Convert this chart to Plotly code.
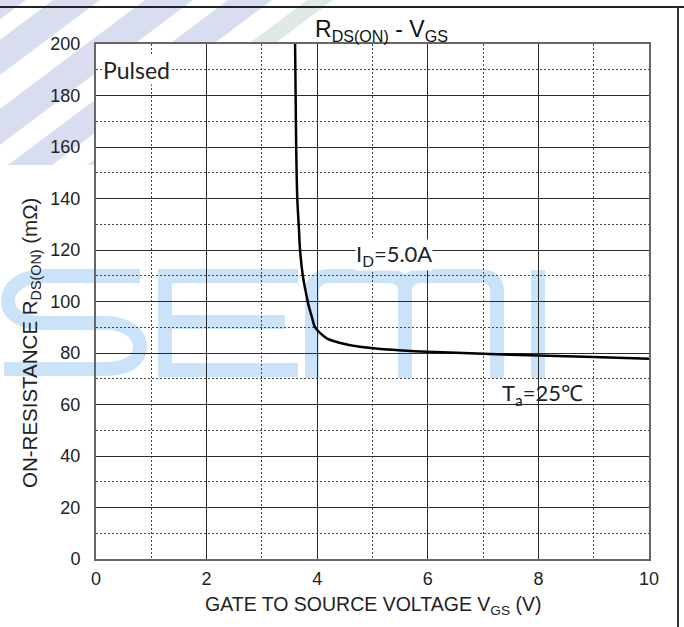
import plotly.graph_objects as go

# ---------------- data ----------------
vgs = [3.60, 3.61, 3.62, 3.64, 3.67, 3.69, 3.74, 3.80, 3.85, 3.91, 3.96,
       4.05, 4.18, 4.40, 4.77, 5.20, 6.00, 7.00, 8.00, 9.00, 10.00]
rds = [200, 180, 160, 140, 128, 120, 110, 103, 98, 93.5, 90,
       87.8, 85.6, 84.0, 82.4, 81.5, 80.5, 79.7, 79.0, 78.4, 77.8]

x_ticks = [0, 2, 4, 6, 8, 10]
y_ticks = [0, 20, 40, 60, 80, 100, 120, 140, 160, 180, 200]

title_text = "R<sub>DS(ON)</sub> - V<sub>GS</sub>"
x_title = "GATE TO SOURCE VOLTAGE V<sub>GS</sub> (V)"
y_title = "ON-RESISTANCE R<sub>DS(ON)</sub> (mΩ)"
note_pulsed = "Pulsed"
note_id = "I<sub>D</sub>=5.0A"
note_ta = "T<sub>a</sub>=25℃"

# ---------------- layout helpers ----------------
W, H = 684, 627
L, R, T, B = 96, 649, 44, 559


def px(x):
    return (x - L) / (R - L)


def py(y):
    return (B - y) / (B - T)


def path_from(cmds):
    out = []
    for c in cmds:
        if isinstance(c, str):
            out.append(c)
        else:
            out.append(f"{px(c[0]):.5f},{py(c[1]):.5f}")
    return " ".join(out)


FONT = "Liberation Sans, Arial, sans-serif"
shapes = []

# diagonal watermark stripes (upper-left, outside plot)
stripe_tops = [(-20, 26), (53, 100), (145, 193), (228, 272), (307, 333)]
stripe_cols = ["#d8def0", "#d8def0", "#d8def0", "#d8def0", "#dfe9e6"]
slope = 0.75
ybot = 165
for (a, b), col in zip(stripe_tops, stripe_cols):
    d = ybot / slope
    p = path_from(["M", (a, 0), "L", (b, 0), "L", (b - d, ybot), "L", (a - d, ybot), "Z"])
    shapes.append(dict(type="path", path=p, xref="paper", yref="paper",
                       fillcolor=col, line=dict(width=0), layer="below"))

# white plot area over stripes
shapes.append(dict(type="rect", xref="paper", yref="paper", x0=0, x1=1, y0=0, y1=1,
                   fillcolor="white", line=dict(width=0), layer="below"))

# "SEMI" watermark letters
wm = "#cbe3f8"
letters = [
    ["M", (140, 276), "L", (45, 276), "C", (20, 276), (8, 288), (8, 301),
     "C", (8, 314), (20, 323), (45, 323), "L", (105, 323),
     "C", (128, 323), (140, 334), (140, 347), "C", (140, 360), (128, 369), (105, 369),
     "L", (4, 369)],
    ["M", (298, 276), "L", (165, 276), "L", (165, 370), "L", (298, 370),
     "M", (165, 322), "L", (285, 322)],
    ["M", (312, 378), "L", (312, 292), "C", (312, 282), (318, 276), (330, 276),
     "L", (388, 276), "C", (400, 276), (405, 282), (405, 292), "L", (405, 378),
     "M", (405, 292), "C", (405, 282), (410, 276), (422, 276), "L", (480, 276),
     "C", (492, 276), (497, 282), (497, 292), "L", (497, 378)],
    ["M", (538, 270), "L", (538, 378)],
]
for lt in letters:
    shapes.append(dict(type="path", path=path_from(lt), xref="paper", yref="paper",
                       line=dict(color=wm, width=14), layer="below"))

# page border lines
shapes.append(dict(type="line", xref="paper", yref="paper", x0=px(0), x1=px(684),
                   y0=py(7), y1=py(7), line=dict(color="#222", width=2), layer="above"))
shapes.append(dict(type="line", xref="paper", yref="paper", x0=px(678), x1=px(678),
                   y0=py(7), y1=py(627), line=dict(color="#333", width=2), layer="above"))

fig = go.Figure()
fig.add_trace(go.Scatter(x=vgs, y=rds, mode="lines",
                         line=dict(color="black", width=2.5, shape="spline", smoothing=0.8),
                         hoverinfo="skip", showlegend=False))

axis_common = dict(showline=True, mirror=True, linecolor="#666", linewidth=2,
                   showgrid=True, gridcolor="#2a2a2a", gridwidth=1.3, zeroline=False,
                   ticks="", tickfont=dict(family=FONT, size=18, color="#222"))

fig.update_xaxes(range=[0, 10], tickvals=x_ticks, ticktext=[str(v) for v in x_ticks],
                 minor=dict(dtick=1, tick0=0, showgrid=True, gridcolor="#444",
                            griddash="2px,2px", gridwidth=1),
                 ticklabelstandoff=2, **axis_common)
fig.update_yaxes(range=[0, 200], tickvals=y_ticks, ticktext=[str(v) for v in y_ticks],
                 minor=dict(dtick=10, tick0=0, showgrid=True, gridcolor="#444",
                            griddash="2px,2px", gridwidth=1),
                 ticklabelstandoff=10, **axis_common)

annotations = [
    dict(text=title_text, xref="paper", yref="paper", x=px(381), y=py(31),
         xanchor="center", yanchor="middle", showarrow=False,
         font=dict(family=FONT, size=23, color="#111")),
    dict(text=x_title, xref="paper", yref="paper", x=px(373), y=py(605),
         xanchor="center", yanchor="middle", showarrow=False,
         font=dict(family=FONT, size=19.5, color="#222")),
    dict(text=y_title, xref="paper", yref="paper", x=px(31), y=py(343),
         xanchor="center", yanchor="middle", showarrow=False, textangle=-90,
         font=dict(family=FONT, size=20.5, color="#222")),
    dict(text=note_pulsed, x=0.1, y=190, xanchor="left", yanchor="middle",
         showarrow=False, bgcolor="white", borderpad=0,
         font=dict(family="Lato, sans-serif", size=23, color="#222")),
    dict(text=note_id, x=5.38, y=118, xanchor="center", yanchor="middle",
         showarrow=False, bgcolor="white", borderpad=0,
         font=dict(family="Lato, sans-serif", size=22, color="#222")),
    dict(text=note_ta, x=8.08, y=64, xanchor="center", yanchor="middle",
         showarrow=False, borderpad=0,
         font=dict(family="Lato, sans-serif", size=22, color="#222")),
]

fig.update_layout(width=W, height=H, margin=dict(l=L, r=W - R, t=T, b=H - B),
                  paper_bgcolor="white", plot_bgcolor="rgba(0,0,0,0)",
                  shapes=shapes, annotations=annotations, showlegend=False)

fig.write_html("out.html", config={"displayModeBar": False},
               post_script="document.body.style.margin='0';document.body.style.overflow='hidden';")
